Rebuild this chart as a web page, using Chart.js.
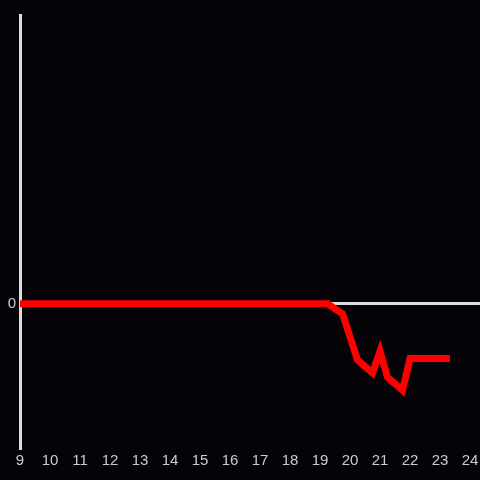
<!DOCTYPE html>
<html>
<head>
<meta charset="utf-8">
<script src="https://cdn.jsdelivr.net/npm/chart.js@4"></script>
<style>
  html, body { margin: 0; padding: 0; background: #050307; }
  #wrap { width: 480px; height: 480px; }
</style>
</head>
<body>
<div id="wrap"><canvas id="chart"></canvas></div>
<script>
// ─── DATA ────────────────────────────────────────────────────────────────────
const hours  = [9, 19.25, 19.75, 20.25, 20.75, 21.0, 21.25, 21.75, 22.0, 23.33];
const values = [0, 0, -0.07, -0.39, -0.48, -0.33, -0.51, -0.60, -0.38, -0.38];
const yTicks = [0];

// ─── CHART ───────────────────────────────────────────────────────────────────
const points = hours.map((h, i) => ({ x: h, y: values[i] }));
const tickFont = { size: 15, family: 'Liberation Sans' };

new Chart(document.getElementById('chart').getContext('2d'), {
  type: 'line',
  data: {
    datasets: [{
      data: points,
      borderColor: '#ff0000',
      borderWidth: 7,
      pointRadius: 0,
      tension: 0,
      borderJoinStyle: 'miter',
    }]
  },
  options: {
    responsive: true, maintainAspectRatio: false,
    animation: false,
    layout: { padding: { top: 15, right: 0, left: 0, bottom: 0 } },
    plugins: { legend: { display: false }, tooltip: { enabled: false } },
    scales: {
      x: {
        type: 'linear', min: 9, max: 24.333,
        grid: { display: false, drawTicks: false },
        border: { display: false },
        afterBuildTicks: s => { s.ticks = []; for (let h = 9; h <= 24; h++) s.ticks.push({ value: h }); },
        afterFit: s => { s.height = 32; s.paddingRight = 0; s.paddingLeft = 0; },
        ticks: { color: '#cccccc', font: tickFont, padding: 4, maxRotation: 0, autoSkip: false },
      },
      y: {
        min: -1, max: 2,
        afterBuildTicks: s => { s.ticks = yTicks.map(v => ({ value: v })); },
        afterFit: s => { s.width = 20; },
        grid: { color: '#dddddd', lineWidth: 3, drawTicks: false },
        border: { display: true, color: '#dddddd', width: 3 },
        ticks: { color: '#cccccc', font: tickFont, padding: 4 },
      },
    },
  }
});
</script>
</body>
</html>
